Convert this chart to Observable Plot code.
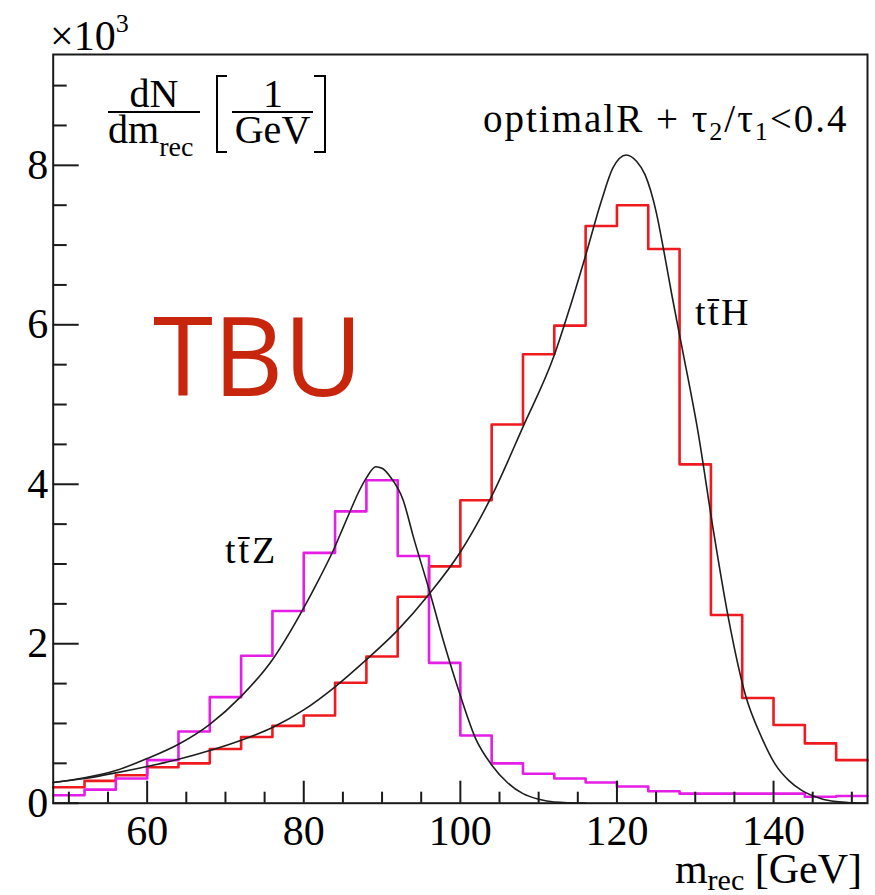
<!DOCTYPE html>
<html>
<head>
<meta charset="utf-8">
<script src="https://cdn.jsdelivr.net/npm/d3@7"></script>
<script src="https://cdn.jsdelivr.net/npm/@observablehq/plot@0.6"></script>
<style>
  html, body { margin: 0; padding: 0; background: #fff; }
  svg { display: block; }
</style>
</head>
<body>
<div id="chart"></div>
<script>
// ---- data (values in units of 10^3 per GeV) ----
const binLow = [48, 52, 56, 60, 64, 68, 72, 76, 80, 84, 88, 92, 96, 100, 104, 108, 112, 116, 120, 124, 128, 132, 136, 140, 144, 148];
const binHigh = 152;
const ttH = [0.20, 0.28, 0.35, 0.45, 0.50, 0.68, 0.83, 0.97, 1.10, 1.51, 1.84, 2.59, 2.97, 3.80, 4.75, 5.63, 5.99, 7.24, 7.50, 6.95, 4.25, 2.36, 1.32, 0.98, 0.75, 0.54];
const ttZ = [0.10, 0.17, 0.31, 0.54, 0.90, 1.33, 1.85, 2.41, 3.14, 3.66, 4.05, 3.10, 1.76, 0.85, 0.50, 0.37, 0.31, 0.26, 0.21, 0.15, 0.12, 0.12, 0.12, 0.12, 0.08, 0.09];

const fitHx = [48, 52, 56, 60, 64, 68, 72, 76, 80, 84, 88, 92, 96, 100, 104, 108, 112, 114, 116, 118, 119.5, 121.2, 122.5, 123.6, 125, 126, 127, 128.3, 130.4, 132.3, 134.2, 136.4, 138.5, 140.2, 142, 143.6, 146, 148, 150, 152];
const fitHy = [0.26, 0.31, 0.38, 0.46, 0.55, 0.66, 0.79, 0.95, 1.17, 1.46, 1.80, 2.17, 2.62, 3.15, 3.85, 4.72, 5.62, 6.22, 6.87, 7.55, 7.97, 8.13, 8.05, 7.88, 7.42, 6.92, 6.38, 5.72, 4.63, 3.43, 2.34, 1.36, 0.82, 0.49, 0.28, 0.16, 0.06, 0.02, 0.005, 0];

const fitZx = [48, 52, 56, 60, 64, 68, 72, 76, 80, 82, 84, 85, 86, 87, 88, 89.2, 90, 91, 92.7, 94, 96, 98, 100, 102, 104, 106, 108, 110, 112, 116];
const fitZy = [0.26, 0.32, 0.41, 0.56, 0.74, 0.99, 1.34, 1.80, 2.45, 2.82, 3.22, 3.45, 3.68, 3.90, 4.08, 4.22, 4.20, 4.10, 3.80, 3.34, 2.68, 1.98, 1.35, 0.80, 0.48, 0.26, 0.12, 0.05, 0.015, 0];

const xMajorTicks = [60, 80, 100, 120, 140];
const xMinorTicks = [50, 55, 65, 70, 75, 85, 90, 95, 105, 110, 115, 125, 130, 135, 145, 150];
const yMajorTicks = [0, 2, 4, 6, 8];
const yMinorTicks = [0.5, 1, 1.5, 2.5, 3, 3.5, 4.5, 5, 5.5, 6.5, 7, 7.5, 8.5, 9];
const xDomain = [48, 152];
const yDomain = [0, 9.39];

// ---- tables built from the arrays ----
const stairs = (vals) => binLow.map((x, i) => ({x, y: vals[i]})).concat([{x: binHigh, y: vals[vals.length - 1]}]);
const stairH = stairs(ttH);
const stairZ = stairs(ttZ);
const fitH = fitHx.map((x, i) => ({x, y: fitHy[i]}));
const fitZ = fitZx.map((x, i) => ({x, y: fitZy[i]}));

const serif = "Liberation Serif";
const axisColor = "#1a1a1a";

const plot = Plot.plot({
  width: 875,
  height: 895,
  marginLeft: 52.7,
  marginRight: 8,
  marginTop: 54,
  marginBottom: 92.3,
  x: {domain: xDomain},
  y: {domain: yDomain},
  style: {fontFamily: serif, background: "#fff", color: "#000"},
  marks: [
    Plot.line(stairH, {x: "x", y: "y", curve: "step-after", stroke: "#ee1a1f", strokeWidth: 2.6}),
    Plot.line(stairZ, {x: "x", y: "y", curve: "step-after", stroke: "#e51ee5", strokeWidth: 2.6}),
    Plot.line(fitH, {x: "x", y: "y", curve: "monotone-x", stroke: "#1e1e1e", strokeWidth: 1.6}),
    Plot.line(fitZ, {x: "x", y: "y", curve: "monotone-x", stroke: "#1e1e1e", strokeWidth: 1.6}),
    Plot.ruleX(xMajorTicks, {x: d => d, y1: 0, y2: 0, insetBottom: 22, stroke: axisColor, strokeWidth: 2}),
    Plot.ruleX(xMinorTicks, {x: d => d, y1: 0, y2: 0, insetBottom: 11, stroke: axisColor, strokeWidth: 2}),
    Plot.ruleY(yMajorTicks, {y: d => d, x1: xDomain[0], x2: xDomain[0], insetLeft: 26, stroke: axisColor, strokeWidth: 2}),
    Plot.ruleY(yMinorTicks, {y: d => d, x1: xDomain[0], x2: xDomain[0], insetLeft: 14, stroke: axisColor, strokeWidth: 2}),
    Plot.axisX(xMajorTicks, {tickSize: 0, tickPadding: 12, fontSize: 42, label: null, fill: "#000", tickFormat: d => String(d)}),
    Plot.axisY(yMajorTicks, {tickSize: 0, tickPadding: 5, fontSize: 42, label: null, fill: "#000", tickFormat: d => String(d)}),
    Plot.frame({stroke: axisColor, strokeWidth: 2})
  ]
});

document.getElementById("chart").appendChild(plot);

// ---- annotations ----
const svg = d3.select(plot);
function txt(x, y, size, anchor) {
  return svg.append("text")
    .attr("x", x).attr("y", y)
    .attr("font-family", serif)
    .attr("font-size", size)
    .attr("text-anchor", anchor || "start")
    .attr("fill", "#000");
}
function seg(x1, y1, x2, y2) {
  svg.append("line").attr("x1", x1).attr("y1", y1).attr("x2", x2).attr("y2", y2)
    .attr("stroke", "#000").attr("stroke-width", 2);
}

// x10^3 multiplier
const mult = txt(50, 50, 42);
mult.append("tspan").text("×10");
mult.append("tspan").attr("font-size", 26).attr("dy", -18).text("3");

// dN/dm_rec [1/GeV]
txt(154, 107, 40, "middle").text("dN");
seg(108, 112, 200, 112);
const dm = txt(108, 143, 40);
dm.append("tspan").text("dm");
dm.append("tspan").attr("font-size", 28).attr("dy", 13).text("rec");
svg.append("path").attr("d", "M227,76 H217 V152 H227").attr("fill", "none").attr("stroke", "#000").attr("stroke-width", 2);
txt(273, 107, 40, "middle").text("1");
seg(232, 112, 313, 112);
txt(272.5, 143, 40, "middle").text("GeV");
svg.append("path").attr("d", "M314,76 H325 V152 H314").attr("fill", "none").attr("stroke", "#000").attr("stroke-width", 2);

// selection label
const sel = txt(483, 132, 39).attr("letter-spacing", 2);
sel.append("tspan").text("optimalR + τ");
sel.append("tspan").attr("font-size", 26).attr("dy", 8).text("2");
sel.append("tspan").attr("dy", -8).text("/τ");
sel.append("tspan").attr("font-size", 26).attr("dy", 8).text("1");
sel.append("tspan").attr("dy", -8).text("<0.4");

// process labels
txt(695, 325, 38).attr("letter-spacing", 2.5).text("tt\u0304H");
txt(225, 563, 38).attr("letter-spacing", 3).text("tt\u0304Z");

// x-axis title
const xt = txt(862, 883, 42, "end");
xt.append("tspan").text("m");
xt.append("tspan").attr("font-size", 30).attr("dy", 7).text("rec");
xt.append("tspan").attr("dy", -7).text(" [GeV]");

// watermark
svg.append("text")
  .attr("x", 153).attr("y", 396)
  .attr("font-family", "Open Sans")
  .attr("font-size", 109)
  .attr("text-anchor", "start")
  .attr("fill", "#c8260c")
  .text("TBU");
</script>
</body>
</html>
